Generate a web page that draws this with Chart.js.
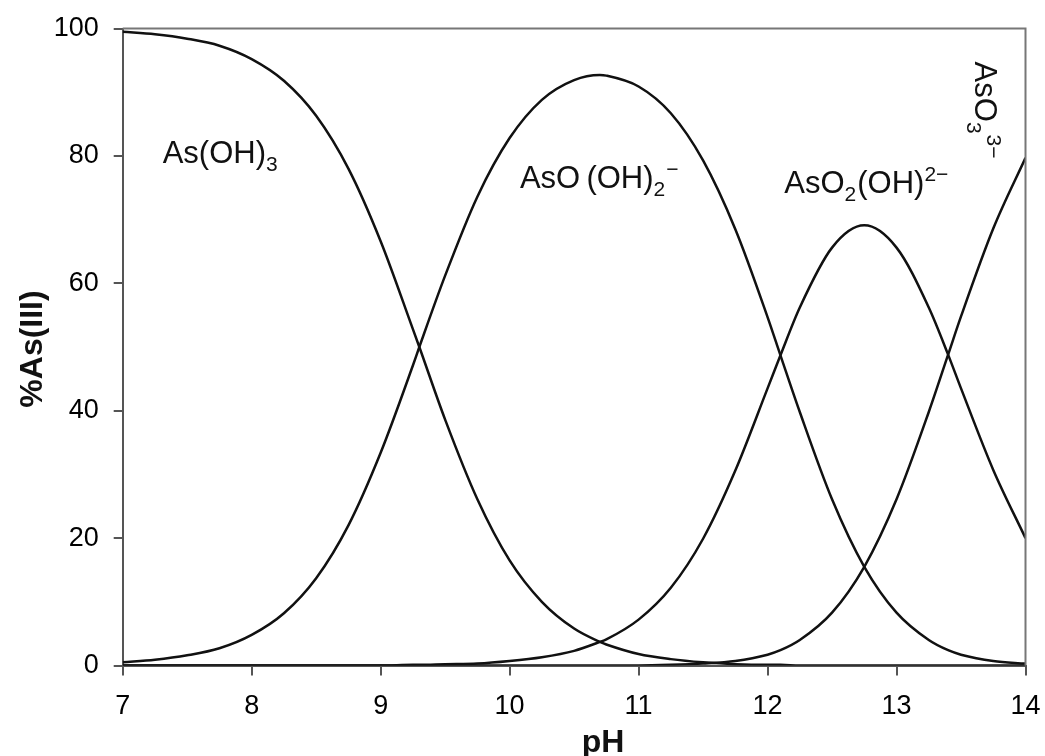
<!DOCTYPE html>
<html>
<head>
<meta charset="utf-8">
<script src="https://cdn.jsdelivr.net/npm/chart.js@4.4.1/dist/chart.umd.min.js"></script>
<style>
  html, body { margin: 0; padding: 0; background: #fff; overflow: hidden; }
  #wrap { width: 1045px; height: 756px; position: relative; }
  canvas { display: block; }
</style>
</head>
<body>
<div id="wrap"><canvas id="myChart"></canvas></div>
<script>
// values
var pH = [7, 7.25, 7.5, 7.75, 8, 8.25, 8.5, 8.75, 9, 9.25, 9.3, 9.5, 9.75, 10, 10.25, 10.5, 10.7, 10.75,
          11, 11.25, 11.5, 11.75, 12, 12.1, 12.25, 12.5, 12.75, 13, 13.25, 13.4, 13.5, 13.75, 14];
var asOH3 = [99.5, 99.1, 98.4, 97.3, 95.2, 91.8, 86.3, 78.0, 66.6, 52.8, 50.0, 38.6, 26.1, 16.5, 10.0, 5.8, 3.7, 3.3,
             1.8, 1.0, 0.5, 0.2, 0.1, 0.1, 0, 0, 0, 0, 0, 0, 0, 0, 0];
var asOOH2 = [0.5, 0.9, 1.6, 2.7, 4.8, 8.2, 13.7, 22.0, 33.4, 47.1, 50.0, 61.2, 73.6, 82.8, 88.8, 91.9, 92.7, 92.6,
              90.9, 86.7, 79.3, 68.5, 54.7, 48.7, 39.8, 26.1, 15.5, 8.3, 4.0, 2.4, 1.7, 0.7, 0.3];
var asO2OH = [0, 0, 0, 0, 0, 0, 0, 0, 0, 0.1, 0.1, 0.2, 0.3, 0.7, 1.3, 2.3, 3.7, 4.1,
              7.2, 12.2, 19.9, 30.6, 43.5, 48.7, 56.2, 65.6, 69.1, 65.6, 56.2, 48.8, 43.5, 30.7, 20.0];
var asO3 = [0, 0, 0, 0, 0, 0, 0, 0, 0, 0, 0, 0, 0, 0, 0, 0, 0, 0,
            0, 0.1, 0.3, 0.7, 1.7, 2.4, 4.0, 8.3, 15.5, 26.1, 39.8, 48.8, 54.8, 68.6, 79.7];
var xTicks = [7, 8, 9, 10, 11, 12, 13, 14];
var yTicks = [0, 20, 40, 60, 80, 100];

// species labels: [pH, %, pieces] ; piece kind 0 normal, 1 sub, 2 sup
var speciesLabels = [
  { x: 7.31, y: 78.9, rot: 0, parts: [['As(OH)', 0], ['3', 1]] },
  { x: 10.08, y: 75.0, rot: 0, parts: [['AsO\u2009(OH)', 0], ['2', 1], ['\u2212', 2]] },
  { x: 12.13, y: 74.2, rot: 0, parts: [['AsO', 0], ['2', 1], ['(OH)', 0], ['2\u2212', 2]] },
  { x: 13.61, y: 94.8, rot: 1, parts: [['AsO', 0], ['3', 1], ['3\u2212', 2]] }
];

function series(vals) {
  return pH.map(function (p, i) { return { x: p, y: vals[i] }; });
}

function lineSet(label, vals) {
  return {
    label: label,
    data: series(vals),
    borderColor: '#111',
    borderWidth: 2.5,
    pointRadius: 0,
    fill: false,
    cubicInterpolationMode: 'monotone'
  };
}

var extras = {
  id: 'extras',
  afterDraw: function (chart) {
    var ctx = chart.ctx, a = chart.chartArea;
    var xs = chart.scales.x, ys = chart.scales.y;
    ctx.save();
    // frame top and right
    ctx.strokeStyle = '#777';
    ctx.lineWidth = 2;
    ctx.beginPath();
    ctx.moveTo(a.left, a.top);
    ctx.lineTo(a.right, a.top);
    ctx.lineTo(a.right, a.bottom);
    ctx.stroke();

    // species labels
    ctx.fillStyle = '#111';
    speciesLabels.forEach(function (lab) {
      ctx.save();
      ctx.translate(xs.getPixelForValue(lab.x), ys.getPixelForValue(lab.y));
      if (lab.rot) ctx.rotate(Math.PI / 2);
      var cx = 0;
      lab.parts.forEach(function (p) {
        var dy = 0;
        if (p[1] === 0) ctx.font = '31px "Liberation Sans", Arial, sans-serif';
        else ctx.font = '21px "Liberation Sans", Arial, sans-serif';
        if (p[1] === 1) dy = 8;
        if (p[1] === 2) dy = -12;
        ctx.textBaseline = 'alphabetic';
        ctx.textAlign = 'left';
        ctx.fillText(p[0], cx, dy);
        cx += ctx.measureText(p[0]).width + (p[1] === 0 ? 0 : 1);
      });
      ctx.restore();
    });

    // axis titles
    ctx.font = 'bold 32px "Liberation Sans", Arial, sans-serif';
    ctx.textAlign = 'center';
    ctx.textBaseline = 'alphabetic';
    ctx.fillText('pH', 603, 752);
    ctx.save();
    ctx.translate(42, 349);
    ctx.rotate(-Math.PI / 2);
    ctx.fillText('%As(III)', 0, 0);
    ctx.restore();
    ctx.restore();
  }
};

var tickFont = { size: 27, family: '"Liberation Sans", Arial, sans-serif' };

var ctx = document.getElementById('myChart').getContext('2d');
var myChart = new Chart(ctx, {
  type: 'line',
  data: {
    datasets: [
      lineSet('As(OH)3', asOH3),
      lineSet('AsO(OH)2-', asOOH2),
      lineSet('AsO2(OH)2-', asO2OH),
      lineSet('AsO3 3-', asO3)
    ]
  },
  plugins: [extras],
  options: {
    responsive: true,
    maintainAspectRatio: false,
    animation: false,
    layout: { padding: { top: 28.5, right: 19.5, left: 0, bottom: 0 } },
    plugins: { legend: { display: false }, tooltip: { enabled: false } },
    scales: {
      x: {
        type: 'linear',
        min: 7,
        max: 14,
        afterBuildTicks: function (s) { s.ticks = xTicks.map(function (v) { return { value: v }; }); },
        afterFit: function (s) {
          s.height = 90.5;
          s.paddingLeft = 0;
          s.paddingRight = 0;
        },
        ticks: { color: '#000', padding: 15, maxRotation: 0, font: tickFont },
        grid: { drawOnChartArea: false, drawTicks: true, tickLength: 10, color: '#555', lineWidth: 2 },
        border: { display: true, color: '#555', width: 2 }
      },
      y: {
        min: 0,
        max: 100,
        afterBuildTicks: function (s) { s.ticks = yTicks.map(function (v) { return { value: v }; }); },
        afterFit: function (s) {
          s.width = 122.7;
          s.paddingTop = 0;
          s.paddingBottom = 0;
        },
        ticks: { color: '#000', padding: 15, font: tickFont },
        grid: { drawOnChartArea: false, drawTicks: true, tickLength: 9, color: '#555', lineWidth: 2 },
        border: { display: true, color: '#555', width: 2 }
      }
    }
  }
});
</script>
</body>
</html>
